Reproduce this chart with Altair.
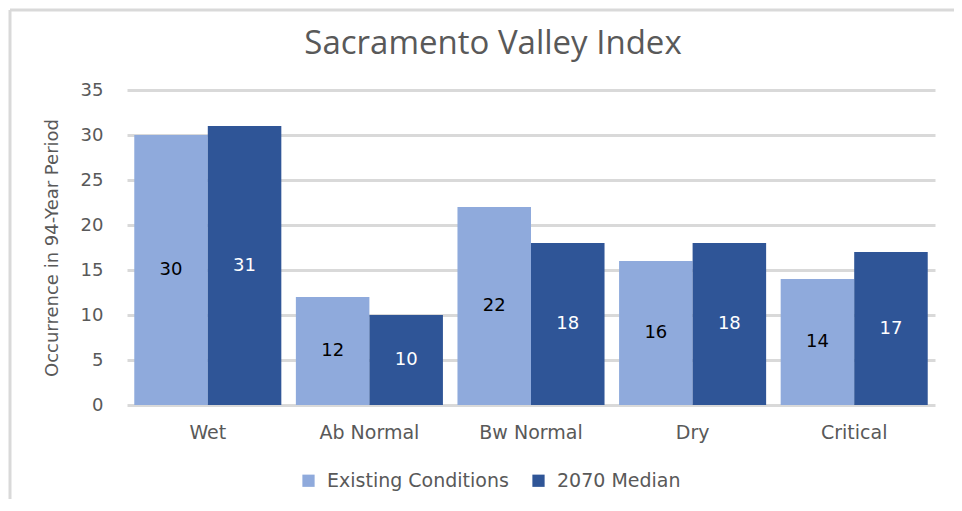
import altair as alt
import pandas as pd

categories = ["Wet", "Ab Normal", "Bw Normal", "Dry", "Critical"]
series_names = ["Existing Conditions", "2070 Median"]
existing = [30, 12, 22, 16, 14]
median_2070 = [31, 10, 18, 18, 17]
y_ticks = [0, 5, 10, 15, 20, 25, 30, 35]
colors = ["#8FAADC", "#2F5597"]

rows = []
for c, a, b in zip(categories, existing, median_2070):
    rows.append({"category": c, "series": series_names[0], "value": a})
    rows.append({"category": c, "series": series_names[1], "value": b})
df = pd.DataFrame(rows)
df["half"] = df["value"] / 2

FONT = "DejaVu Sans"
GRAY = "#595959"

x_enc = alt.X("category:N", sort=categories,
              scale=alt.Scale(paddingInner=0.09, paddingOuter=0.045),
              axis=alt.Axis(title=None, labelFontSize=19, labelColor=GRAY, labelFont=FONT,
                            labelPadding=18, ticks=False, domain=False, labelAngle=0))
xoff = alt.XOffset("series:N", sort=series_names, scale=alt.Scale(paddingInner=0, paddingOuter=0))

base = alt.Chart(df)

bars = base.mark_bar().encode(
    x=x_enc,
    xOffset=xoff,
    y=alt.Y("value:Q", scale=alt.Scale(domain=[0, 35]),
            axis=alt.Axis(values=y_ticks, title="Occurrence in 94-Year Period",
                          titleFontSize=18, titleFont=FONT, titleColor=GRAY, titleFontWeight="normal",
                          titlePadding=19, labelFontSize=18, labelFont=FONT, labelColor=GRAY,
                          labelPadding=24, ticks=False, domain=False,
                          gridColor="#D9D9D9", gridWidth=3)),
    color=alt.Color("series:N", sort=series_names,
                    scale=alt.Scale(domain=series_names, range=colors),
                    legend=alt.Legend(title=None, orient="none", legendX=172, legendY=381,
                                      direction="horizontal", symbolType="square",
                                      symbolSize=150, symbolStrokeWidth=0, symbolOpacity=1,
                                      labelFontSize=19, labelFont=FONT, labelColor=GRAY,
                                      labelLimit=400, columnPadding=20, labelOffset=9)),
)

labels = base.mark_text(fontSize=18, font=FONT).encode(
    x=alt.X("category:N", sort=categories),
    xOffset=xoff,
    y=alt.Y("half:Q"),
    text=alt.Text("value:Q"),
    color=alt.condition(alt.datum.series == series_names[0], alt.value("black"), alt.value("white")),
)

frame_left = alt.Chart(pd.DataFrame({"k": [0]})).mark_rule(color="#D9D9D9", strokeWidth=3).encode(
    x=alt.value(-117), y=alt.value(-80), y2=alt.value(425))
frame_top = alt.Chart(pd.DataFrame({"k": [0]})).mark_rule(color="#D9D9D9", strokeWidth=3).encode(
    x=alt.value(-117), x2=alt.value(845), y=alt.value(-80))

chart = alt.layer(frame_left, frame_top, bars, labels).properties(
    width=808, height=315,
    autosize=alt.AutoSizeParams(type="none"),
    padding={"left": 119, "top": 82, "right": 19, "bottom": 94},
    title=alt.TitleParams("Sacramento Valley Index", fontSize=33, font="Open Sans", color=GRAY,
                          fontWeight="normal", anchor="middle", frame="group", dx=-38, offset=-52),
).configure_view(stroke=None)

chart.save("out.html", embed_options={"renderer": "svg", "actions": False})
